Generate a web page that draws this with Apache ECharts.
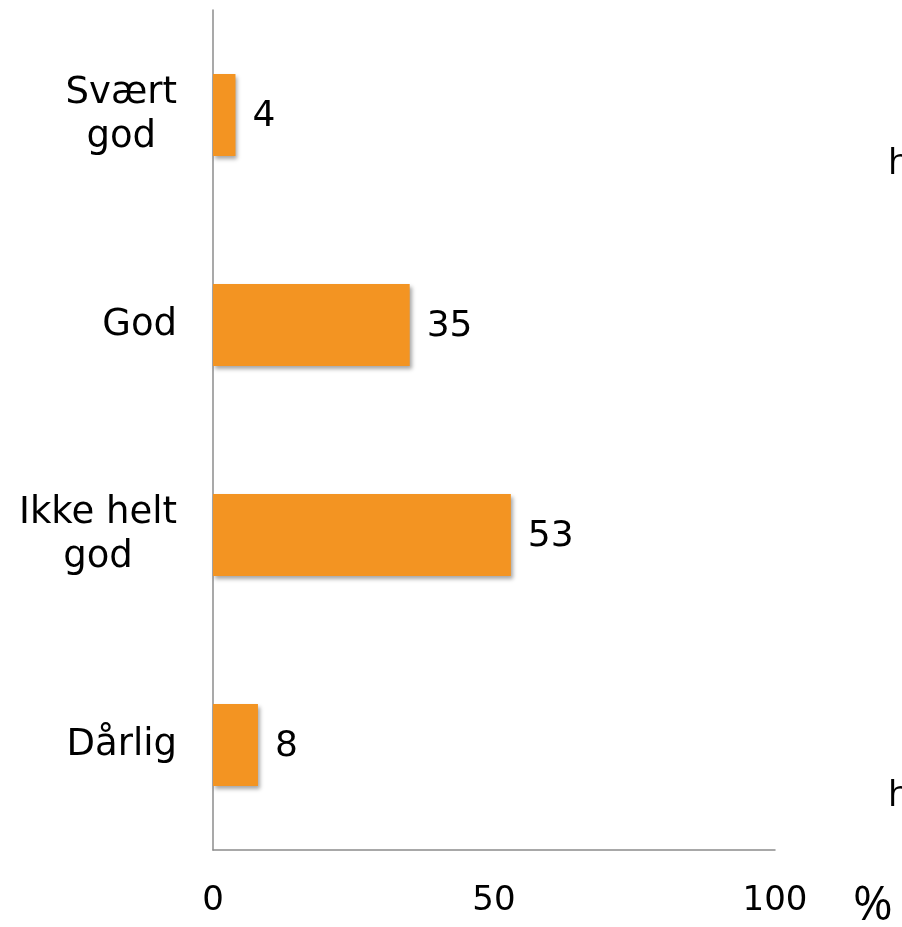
<!DOCTYPE html>
<html><head><meta charset="utf-8">
<script src="https://cdn.jsdelivr.net/npm/echarts@6/dist/echarts.min.js"></script>
<style>html,body{margin:0;padding:0;background:#fff}#c{width:902px;height:927px}</style>
</head><body><div id="c"></div>
<script>
const categories = ['Svært\ngod', 'God', 'Ikke helt\ngod', 'Dårlig'];
const values = [4, 35, 53, 8];
const xTicks = [0, 50, 100];

const chart = echarts.init(document.getElementById('c'));
chart.setOption({
  animation: false,
  grid: { left: 213, right: 127, top: 10, bottom: 77 },
  xAxis: {
    type: 'value', min: 0, max: 100, interval: 50,
    axisLine: { show: true, lineStyle: { color: '#8c8c8c', width: 1.5 } },
    axisTick: { show: false },
    splitLine: { show: false },
    axisLabel: { margin: 34, fontSize: 34, color: '#000', fontFamily: 'DejaVu Sans',
      formatter: v => xTicks.includes(v) ? String(v) : '' }
  },
  yAxis: {
    type: 'category', data: categories, inverse: true,
    axisLine: { show: true, lineStyle: { color: '#8c8c8c', width: 1.5 } },
    axisTick: { show: false },
    axisLabel: {
      margin: 36, fontSize: 37, color: '#000', fontFamily: 'DejaVu Sans', align: 'right', lineHeight: 44,
      formatter: v => v.split('\n').map(s => '{c|' + s + '}').join('\n'),
      rich: { c: { align: 'center', fontSize: 37, fontFamily: 'DejaVu Sans', color: '#000', lineHeight: 44 } }
    }
  },
  series: [{
    type: 'bar', data: values, barWidth: 82,
    itemStyle: { color: '#f39422', shadowBlur: 4, shadowOffsetX: 2, shadowOffsetY: 3, shadowColor: 'rgba(0,0,0,0.35)' },
    label: { show: true, position: 'right', distance: 17, fontSize: 36, color: '#000', fontFamily: 'DejaVu Sans', offset: [0, 2] }
  }],
  graphic: [
    { type: 'text', left: 888, top: 145, style: { text: 'h', fontSize: 37, fontFamily: 'Open Sans', fill: '#000' } },
    { type: 'text', left: 888, top: 777, style: { text: 'h', fontSize: 37, fontFamily: 'Open Sans', fill: '#000' } },
    { type: 'text', left: 853, top: 882, style: { text: '%', fontSize: 48, fontFamily: 'Open Sans', fill: '#000' } }
  ]
});
</script></body></html>
